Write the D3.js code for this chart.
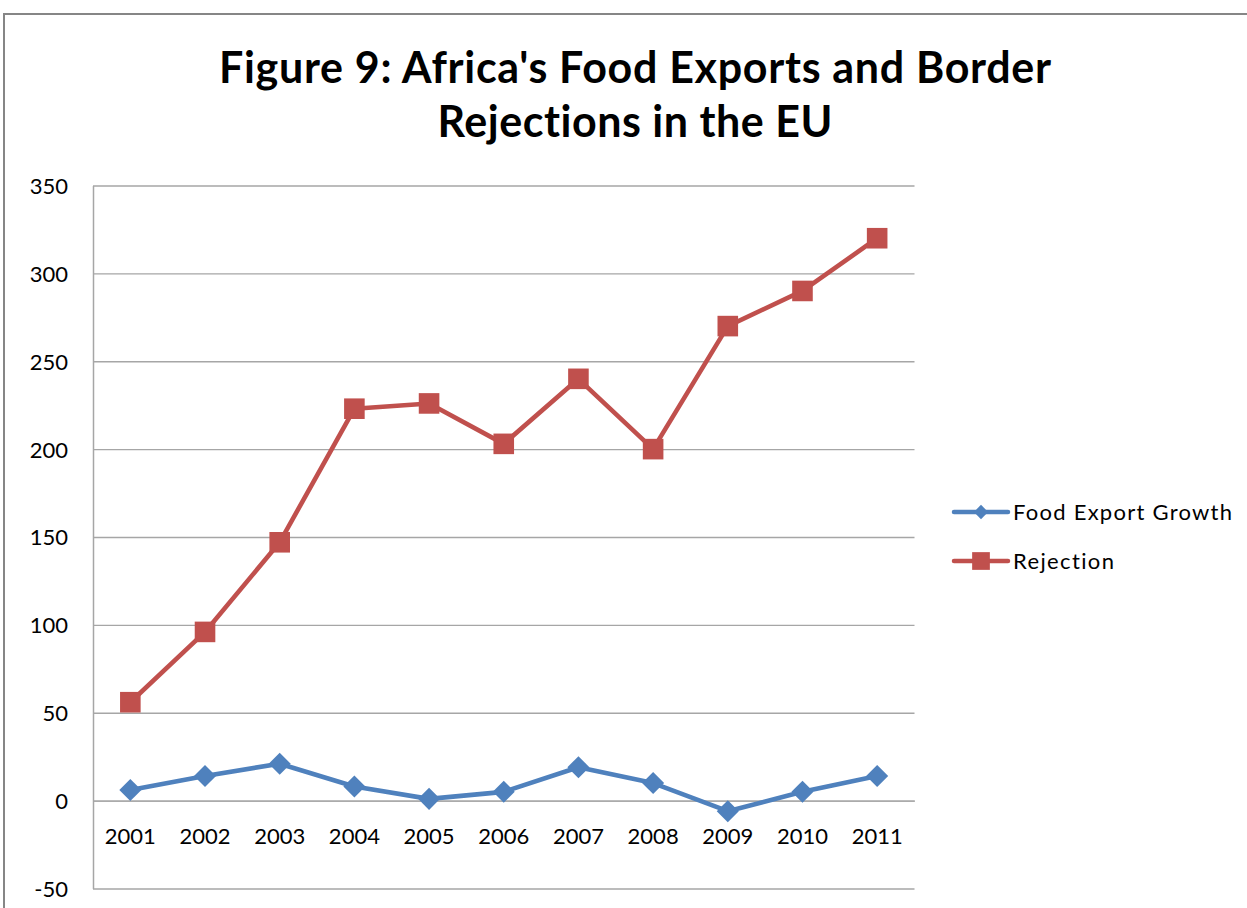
<!DOCTYPE html>
<html>
<head>
<meta charset="utf-8">
<script src="https://cdn.jsdelivr.net/npm/d3@7"></script>
<style>
  html, body { margin: 0; padding: 0; background: #fff; }
  svg { display: block; }
  text { font-family: Lato, "Open Sans", sans-serif; fill: #000; font-variant-ligatures: none; }
</style>
</head>
<body>
<svg id="chart" width="1247" height="908"></svg>
<script>
// Years on the category axis
const years = ["2001","2002","2003","2004","2005","2006","2007","2008","2009","2010","2011"];
// Year-on-year growth of food exports (%)
const foodExportGrowth = [6, 14, 21, 8, 1, 5, 19, 10, -6, 5, 14];
// Border rejections in the EU (count)
const rejection = [56, 96, 147, 223, 226, 203, 240, 200, 270, 290, 320];
// Value axis ticks
const yTicks = [-50, 0, 50, 100, 150, 200, 250, 300, 350];

const seriesNames = ["Food Export Growth", "Rejection"];
const seriesColors = ["#4F81BD", "#C0504D"];

const svg = d3.select("#chart");

// Outer chart frame
svg.append("rect")
  .attr("x", 4).attr("y", 14)
  .attr("width", 1300).attr("height", 1000)
  .attr("fill", "#fff")
  .attr("stroke", "#868686").attr("stroke-width", 2);

// Title
const titleLines = [
  { text: "Figure 9: Africa's Food Exports and Border", y: 83, len: 832 },
  { text: "Rejections in the EU", y: 137, len: 395 }
];
titleLines.forEach(t => {
  svg.append("text")
    .attr("x", 635).attr("y", t.y)
    .attr("text-anchor", "middle")
    .attr("font-weight", "bold")
    .attr("font-size", 43)
    .attr("textLength", t.len)
    .attr("lengthAdjust", "spacing")
    .text(t.text);
});

const plot = { left: 93, right: 914.5, top: 185.5, bottom: 888.5 };

const x = d3.scaleBand().domain(years).range([plot.left, plot.right]);
const y = d3.scaleLinear().domain([-50, 350]).range([plot.bottom, plot.top]);

// Horizontal gridlines
const grid = svg.append("g")
  .attr("transform", `translate(${plot.left},0)`)
  .call(d3.axisLeft(y).tickValues(yTicks).tickSize(-(plot.right - plot.left)).tickFormat(""));
grid.select(".domain").remove();
grid.selectAll("line").attr("stroke", "#a6a6a6").attr("stroke-width", 1.3);

// Value axis
const yAxis = svg.append("g")
  .attr("transform", `translate(${plot.left},0)`)
  .call(d3.axisLeft(y).tickValues(yTicks).tickSize(0).tickPadding(25).tickFormat(d => String(d)));
yAxis.select(".domain").attr("stroke", "#a6a6a6").attr("stroke-width", 1.5);
yAxis.selectAll("text")
  .attr("font-size", 22)
  .attr("dy", "0.36em")
  .style("font-family", "Lato, 'Open Sans', sans-serif")
  .attr("fill", "#000");

// Category axis along the zero line
const xAxis = svg.append("g")
  .attr("transform", `translate(0,${y(0)})`)
  .call(d3.axisBottom(x).tickSize(0));
xAxis.select(".domain").attr("stroke", "#a6a6a6").attr("stroke-width", 1.3);
xAxis.selectAll("text")
  .attr("y", 43)
  .attr("dy", null)
  .attr("font-size", 22)
  .style("font-family", "Lato, 'Open Sans', sans-serif")
  .attr("fill", "#000");

const cx = d => x(d) + x.bandwidth() / 2;
const line = d3.line().x(d => cx(d.year)).y(d => y(d.value));

const series = [foodExportGrowth, rejection].map((vals, i) => ({
  name: seriesNames[i],
  color: seriesColors[i],
  points: years.map((yr, j) => ({ year: yr, value: vals[j] }))
}));

const symbols = [
  d3.symbol().type(d3.symbolDiamond2).size(310),
  d3.symbol().type(d3.symbolSquare2).size(540)
];

series.forEach((s, i) => {
  const g = svg.append("g");
  g.append("path")
    .attr("d", line(s.points))
    .attr("fill", "none")
    .attr("stroke", s.color)
    .attr("stroke-width", 4.6)
    .attr("stroke-linejoin", "round");
  g.selectAll("path.marker")
    .data(s.points)
    .join("path")
    .attr("class", "marker")
    .attr("transform", d => `translate(${cx(d.year)},${y(d.value)})`)
    .attr("d", symbols[i])
    .attr("fill", s.color);
});

// Legend
const legendSymbols = [
  d3.symbol().type(d3.symbolDiamond2).size(130),
  d3.symbol().type(d3.symbolSquare2).size(400)
];
const legendWidths = [219, 101];
const legend = svg.append("g");
series.forEach((s, i) => {
  const ly = 512 + i * 49;
  legend.append("line")
    .attr("x1", 954).attr("x2", 1008)
    .attr("y1", ly).attr("y2", ly)
    .attr("stroke", s.color).attr("stroke-width", 4.5)
    .attr("stroke-linecap", "round");
  legend.append("path")
    .attr("transform", `translate(981,${ly})`)
    .attr("d", legendSymbols[i])
    .attr("fill", s.color);
  legend.append("text")
    .attr("x", 1013).attr("y", ly + 8)
    .attr("font-size", 22)
    .attr("textLength", legendWidths[i])
    .attr("lengthAdjust", "spacing")
    .text(s.name);
});
</script>
</body>
</html>
